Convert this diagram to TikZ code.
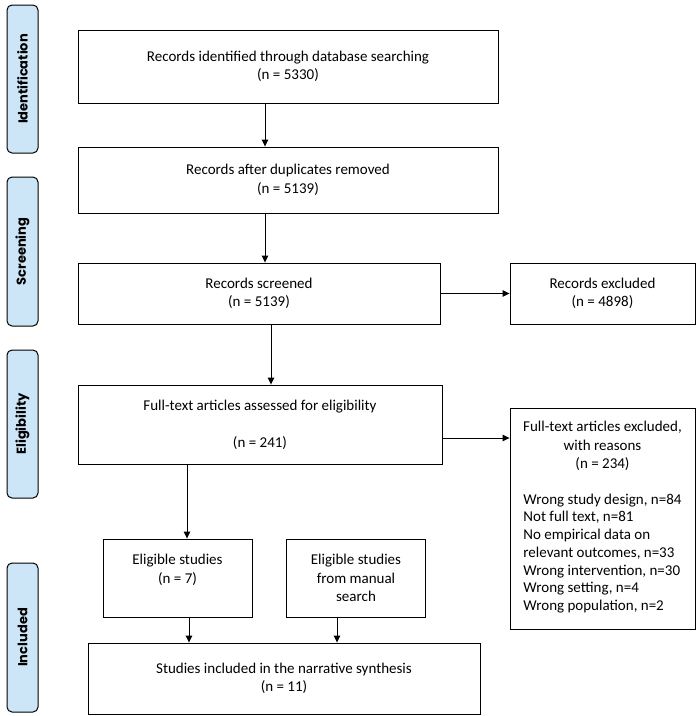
\documentclass[tikz,border=0pt]{standalone}
\usepackage{fontspec}
\setmainfont{Carlito}
\newfontfamily\phasefont{Poppins}
\usetikzlibrary{arrows.meta}

\definecolor{phaseblue}{HTML}{CDE6F7}

\tikzset{
  box/.style={draw, line width=0.9pt, align=center, inner sep=2pt,
    font=\fontsize{15}{18.5}\selectfont},
  phase/.style={draw, line width=1pt, rounded corners=5pt, fill=phaseblue,
    rotate=90, minimum height=31pt, inner sep=0pt,
    font=\phasefont\bfseries\fontsize{13}{15}\selectfont},
  arr/.style={-{Triangle[length=7pt,width=6.5pt]}, line width=0.9pt}
}

\begin{document}
\begin{tikzpicture}[x=1pt,y=-1pt]
\useasboundingbox (0,0) rectangle (700,716);

% phases
\node[phase, minimum width=148pt] (pid) at (22.5,79) {Identification};
\node[phase, minimum width=149pt] (psc) at (22.5,251.5) {Screening};
\node[phase, minimum width=148pt] (pel) at (22.5,424) {Eligibility};
\node[phase, minimum width=149pt] (pin) at (22.5,637.5) {Included};

% boxes
\node[box, minimum width=420pt, minimum height=73pt] (ident) at (288,66.5)
  {Records identified through database searching\\(n = 5330)};
\node[box, minimum width=420pt, minimum height=66pt] (dup) at (288,180)
  {Records after duplicates removed\\(n = 5139)};
\node[box, minimum width=362pt, minimum height=61pt] (screen) at (259,293.5)
  {Records screened\\(n = 5139)};
\node[box, minimum width=185pt, minimum height=61pt] (excl) at (602.5,293.5)
  {Records excluded\\(n = 4898)};
\node[box, minimum width=364pt, minimum height=79pt] (full) at (260,424.5)
  {Full-text articles assessed for eligibility\\ \\(n = 241)};
\node[box, minimum width=185pt, minimum height=221pt] (fexcl) at (602.5,518.5)
  {Full-text articles excluded,\\with reasons\\(n = 234)\\[17pt]
   \renewcommand\arraystretch{0.96}%
   \begin{tabular}[t]{@{}l@{}}
   Wrong study design, n=84\\
   Not full text, n=81\\
   No empirical data on\\
   relevant outcomes, n=33\\
   Wrong intervention, n=30\\
   Wrong setting, n=4\\
   Wrong population, n=2
   \end{tabular}};
\node[box, minimum width=149pt, minimum height=78pt] (elig) at (177.5,578)
  {Eligible studies\\(n = 7)\\ };
\node[box, minimum width=139pt, minimum height=78pt] (manual) at (356,578)
  {Eligible studies\\from manual\\search};
\node[box, minimum width=392pt, minimum height=71pt] (final) at (284,678.5)
  {Studies included in the narrative synthesis\\(n = 11)};

% arrow columns
\coordinate (c1) at (265,0);
\coordinate (c2) at (271,0);
\coordinate (c3) at (187,0);
\coordinate (c4) at (189,0);
\coordinate (c5) at (337,0);
\coordinate (r1) at (0,438);

\draw[arr] (ident.south -| c1) -- (dup.north -| c1);
\draw[arr] (dup.south -| c1) -- (screen.north -| c1);
\draw[arr] (screen.east) -- (excl.west);
\draw[arr] (screen.south -| c2) -- (full.north -| c2);
\draw[arr] (full.east |- r1) -- (fexcl.west |- r1);
\draw[arr] (full.south -| c3) -- (elig.north -| c3);
\draw[arr] (elig.south -| c4) -- (final.north -| c4);
\draw[arr] (manual.south -| c5) -- (final.north -| c5);

\end{tikzpicture}
\end{document}
